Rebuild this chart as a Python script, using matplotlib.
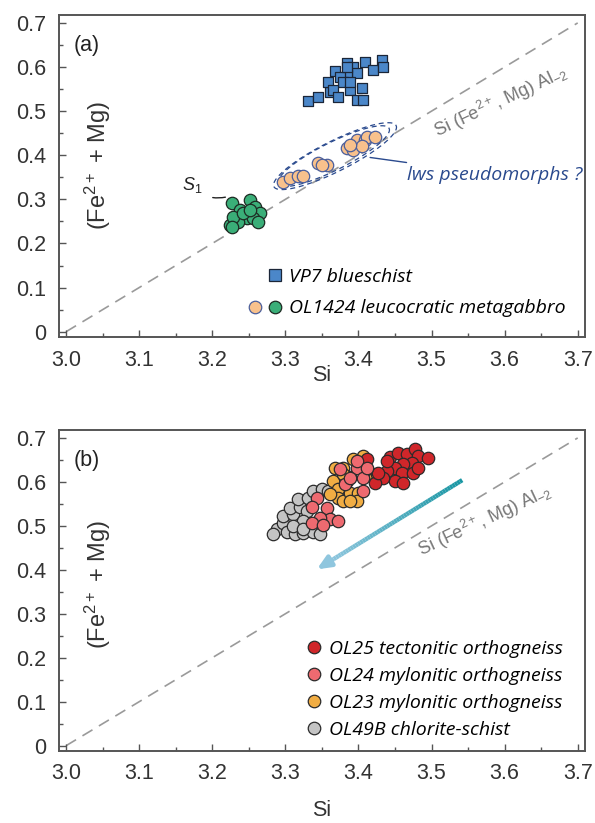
import numpy as np
import matplotlib
matplotlib.use("Agg")
import matplotlib.pyplot as plt
from matplotlib.lines import Line2D
from matplotlib.legend_handler import HandlerTuple
from matplotlib.collections import LineCollection
from matplotlib.colors import LinearSegmentedColormap
from matplotlib.ticker import MultipleLocator, FuncFormatter

plt.rcParams['font.family'] = ['Liberation Sans', 'DejaVu Sans']
plt.rcParams['mathtext.fontset'] = 'custom'
plt.rcParams['mathtext.rm'] = 'Liberation Sans'
plt.rcParams['mathtext.it'] = 'Liberation Sans:italic'

# ---- data panel (a)
vp7_si = [3.331, 3.345, 3.361, 3.358, 3.368, 3.384, 3.393, 3.398, 3.384, 3.375,
          3.379, 3.388, 3.405, 3.398, 3.406, 3.409, 3.420, 3.432, 3.434, 3.365,
          3.388, 3.372, 3.384]
vp7_femg = [0.522, 0.531, 0.544, 0.567, 0.590, 0.610, 0.599, 0.587, 0.583, 0.578,
            0.565, 0.549, 0.553, 0.526, 0.526, 0.612, 0.594, 0.617, 0.601, 0.549,
            0.567, 0.533, 0.599]

lws_si = [3.297, 3.306, 3.317, 3.324, 3.345, 3.357, 3.350, 3.384, 3.393, 3.398,
          3.409, 3.412, 3.423, 3.405, 3.388]
lws_femg = [0.340, 0.349, 0.352, 0.352, 0.383, 0.379, 0.379, 0.417, 0.413, 0.435,
            0.435, 0.442, 0.442, 0.420, 0.424]

s1_si = [3.227, 3.238, 3.252, 3.259, 3.265, 3.248, 3.235, 3.224, 3.228, 3.256,
         3.242, 3.252, 3.227, 3.263]
s1_femg = [0.292, 0.277, 0.299, 0.283, 0.270, 0.258, 0.249, 0.243, 0.261, 0.258,
           0.270, 0.277, 0.238, 0.249]

# ---- data panel (b)
ol49_si = [3.288, 3.297, 3.302, 3.313, 3.324, 3.338, 3.347, 3.297, 3.311, 3.306,
           3.320, 3.317, 3.331, 3.338, 3.350, 3.358, 3.329, 3.324, 3.311, 3.283,
           3.324]
ol49_femg = [0.494, 0.506, 0.487, 0.481, 0.483, 0.487, 0.481, 0.522, 0.526, 0.540,
             0.544, 0.560, 0.563, 0.579, 0.583, 0.579, 0.533, 0.510, 0.499, 0.481,
             0.494]

ol23_si = [3.368, 3.379, 3.365, 3.372, 3.372, 3.379, 3.388, 3.399, 3.398, 3.388,
           3.384, 3.406, 3.402, 3.413, 3.425, 3.393, 3.388, 3.379, 3.361]
ol23_femg = [0.631, 0.631, 0.601, 0.583, 0.563, 0.556, 0.574, 0.574, 0.556, 0.556,
             0.601, 0.658, 0.640, 0.620, 0.617, 0.651, 0.612, 0.617, 0.572]

ol24_si = [3.375, 3.398, 3.398, 3.406, 3.382, 3.406, 3.343, 3.336, 3.357, 3.361,
           3.372, 3.347, 3.336, 3.352, 3.412, 3.388]
ol24_femg = [0.629, 0.631, 0.647, 0.608, 0.595, 0.579, 0.563, 0.544, 0.540, 0.515,
             0.510, 0.517, 0.506, 0.503, 0.631, 0.608]

ol25_si = [3.443, 3.454, 3.466, 3.477, 3.482, 3.495, 3.473, 3.461, 3.450, 3.439,
           3.459, 3.475, 3.450, 3.461, 3.434, 3.423, 3.427, 3.412, 3.409, 3.482,
           3.439]
ol25_femg = [0.656, 0.665, 0.663, 0.674, 0.658, 0.654, 0.642, 0.640, 0.631, 0.624,
             0.620, 0.620, 0.601, 0.597, 0.608, 0.597, 0.620, 0.651, 0.628, 0.631,
             0.647]

# trend arrow (start, end) in (b)
trend_si = [3.542, 3.343]
trend_femg = [0.604, 0.401]

tschermak_si = [3.0, 3.7]
tschermak_femg = [0.0, 0.7]

xticks = [3.0, 3.1, 3.2, 3.3, 3.4, 3.5, 3.6, 3.7]
yticks = [0.0, 0.1, 0.2, 0.3, 0.4, 0.5, 0.6, 0.7]

c_blue, c_lws, c_s1 = '#4b87c9', '#f8c18c', '#3aae78'
c_ol25, c_ol24, c_ol23, c_ol49 = '#d0262a', '#ee6a70', '#f1ad43', '#c4c4c4'
c_tick = '#333333'
c_note = '#2a4a8e'

fig = plt.figure(figsize=(5.95, 8.23), dpi=100)
ax_a = fig.add_axes([0.0992, 0.5905, 0.884, 0.3913])
ax_b = fig.add_axes([0.0992, 0.0875, 0.884, 0.3900])

leg_font = dict(family='Open Sans', style='italic', size=14)
ylab = r'(Fe$^{2+}$ + Mg)'
tsch_lab = r'Si (Fe$^{2+}$, Mg) Al$_{-2}$'


def style_axis(ax, panel, xlabelpad, ylab_y):
    ax.set_xlim(2.9904, 3.710)
    ax.set_ylim(-0.012, 0.718)
    ax.xaxis.set_minor_locator(MultipleLocator(0.05))
    ax.yaxis.set_minor_locator(MultipleLocator(0.05))
    ax.set_xticks(xticks)
    ax.set_yticks(yticks)
    ax.xaxis.set_major_formatter(FuncFormatter(lambda v, p: f'{v:.1f}'))
    ax.yaxis.set_major_formatter(FuncFormatter(lambda v, p: '0' if abs(v) < 1e-9 else f'{v:.1f}'))
    ax.tick_params(which='both', direction='in', colors='#555555', labelcolor=c_tick,
                   labelsize=15.5, width=1.0, pad=9)
    ax.tick_params(which='major', length=5)
    ax.tick_params(which='minor', length=3)
    for sp in ax.spines.values():
        sp.set_color('#555555')
        sp.set_linewidth(1.4)
    ax.set_xlabel('Si', fontsize=15.5, color=c_tick, labelpad=xlabelpad)
    # y label sits inside the frame, next to the left spine
    ax.set_ylabel(ylab, fontsize=17, color=c_tick)
    ax.yaxis.set_label_coords(0.046, ylab_y)
    ax.yaxis.label.set_va('top')
    ax.plot(tschermak_si, tschermak_femg, ls=(0, (7, 4.5)), color='#9a9a9a', lw=1.2, zorder=1)
    ax.text(0.027, 0.905, panel, transform=ax.transAxes, fontsize=15.5, color='#222222',
            va='center', ha='left')


style_axis(ax_a, '(a)', -4, 0.534)
style_axis(ax_b, '(b)', 11, 0.52)

# ---- panel (a)
ax_a.scatter(vp7_si, vp7_femg, marker='s', s=62, c=c_blue, edgecolors='#1b2638',
             linewidths=0.9, zorder=3)

# dashed double ellipse around lws pseudomorphs
t = np.linspace(0, 2 * np.pi, 200)
for k, dx in ((1.0, 0.0), (1.1, 0.002)):
    ex = 3.366 + dx + 0.076 * k * np.cos(t) + 0.0085 * k * np.sin(t)
    ey = 0.398 + 0.063 * k * np.cos(t) - 0.028 * k * np.sin(t)
    ax_a.plot(ex, ey, ls=(0, (4, 3)), color=c_note, lw=0.9, zorder=2)

ax_a.scatter(lws_si, lws_femg, marker='o', s=80, c=c_lws, edgecolors='#4b5f9c',
             linewidths=0.9, zorder=3)
ax_a.scatter(s1_si, s1_femg, marker='o', s=80, c=c_s1, edgecolors='#1d2a22',
             linewidths=0.9, zorder=3)

ax_a.annotate('lws pseudomorphs ?', xy=(3.416, 0.395), xytext=(3.466, 0.356),
              fontfamily='Open Sans', fontstyle='italic', fontsize=14, color=c_note,
              va='center', ha='left',
              arrowprops=dict(arrowstyle='-', color=c_note, lw=1.0, shrinkA=2, shrinkB=0))
ax_a.annotate(r'$S_1$', xy=(3.218, 0.305), xytext=(3.172, 0.333),
              fontsize=13, color='#222222', va='center', ha='center',
              arrowprops=dict(arrowstyle='-', color='#222222', lw=1.0, shrinkA=6, shrinkB=0,
                              connectionstyle='arc3,rad=0.3'))
ax_a.text(3.595, 0.522, tsch_lab, rotation=25, rotation_mode='anchor', fontsize=13,
          color='#777777', ha='center', va='center')

blank = Line2D([], [], marker='s', ls='', mfc='none', mec='none', ms=8)
h_vp7 = Line2D([], [], marker='s', ls='', mfc=c_blue, mec='#1b2638', ms=8, mew=0.9)
h_lws = Line2D([], [], marker='o', ls='', mfc=c_lws, mec='#4b5f9c', ms=9, mew=0.9)
h_s1 = Line2D([], [], marker='o', ls='', mfc=c_s1, mec='#1d2a22', ms=9, mew=0.9)
ax_a.legend([(blank, h_vp7), (h_lws, h_s1)],
            ['VP7 blueschist', 'OL1424 leucocratic metagabbro'],
            handler_map={tuple: HandlerTuple(ndivide=None, pad=0.4)},
            loc='upper left', bbox_to_anchor=(0.36, 0.215), frameon=False,
            prop=leg_font, handlelength=1.7, handletextpad=0.4, labelspacing=0.7,
            borderaxespad=0, borderpad=0)

# ---- panel (b)
ax_b.scatter(ol49_si, ol49_femg, s=80, c=c_ol49, edgecolors='#2b2b2b', linewidths=0.9, zorder=3)
ax_b.scatter(ol23_si, ol23_femg, s=80, c=c_ol23, edgecolors='#2b2b2b', linewidths=0.9, zorder=4)
ax_b.scatter(ol24_si, ol24_femg, s=80, c=c_ol24, edgecolors='#2b2b2b', linewidths=0.9, zorder=5)
ax_b.scatter(ol25_si, ol25_femg, s=80, c=c_ol25, edgecolors='#2b2b2b', linewidths=0.9, zorder=4)

# gradient trend arrow
grad = LinearSegmentedColormap.from_list('trend', ['#1896a3', '#8fc6de'])
n = 60
gx = np.linspace(trend_si[0], trend_si[1], n + 1)
gy = np.linspace(trend_femg[0], trend_femg[1], n + 1)
segs = [[(gx[i], gy[i]), (gx[i + 1], gy[i + 1])] for i in range(int(n * 0.93))]
lc = LineCollection(segs, colors=grad(np.linspace(0, 1, len(segs))), linewidths=3.2,
                    capstyle='butt', zorder=2)
ax_b.add_collection(lc)
ax_b.annotate('', xy=(trend_si[1], trend_femg[1]),
              xytext=(gx[int(n * 0.9)], gy[int(n * 0.9)]),
              arrowprops=dict(arrowstyle='-|>,head_length=0.8,head_width=0.35',
                              color='#8fc6de', lw=3.2, shrinkA=0, shrinkB=0))

ax_b.text(3.573, 0.513, tsch_lab, rotation=25, rotation_mode='anchor', fontsize=13,
          color='#777777', ha='center', va='center')

hb = [Line2D([], [], marker='o', ls='', mfc=c, mec='#2b2b2b', ms=9, mew=0.9)
      for c in (c_ol25, c_ol24, c_ol23, c_ol49)]
ax_b.legend(hb, ['OL25 tectonitic orthogneiss', 'OL24 mylonitic orthogneiss',
                 'OL23 mylonitic orthogneiss', 'OL49B chlorite-schist'],
            loc='upper left', bbox_to_anchor=(0.47, 0.345), frameon=False,
            prop=leg_font, handlelength=0.8, handletextpad=0.35, labelspacing=0.45,
            borderaxespad=0, borderpad=0)

fig.savefig('out.png', dpi=100)
